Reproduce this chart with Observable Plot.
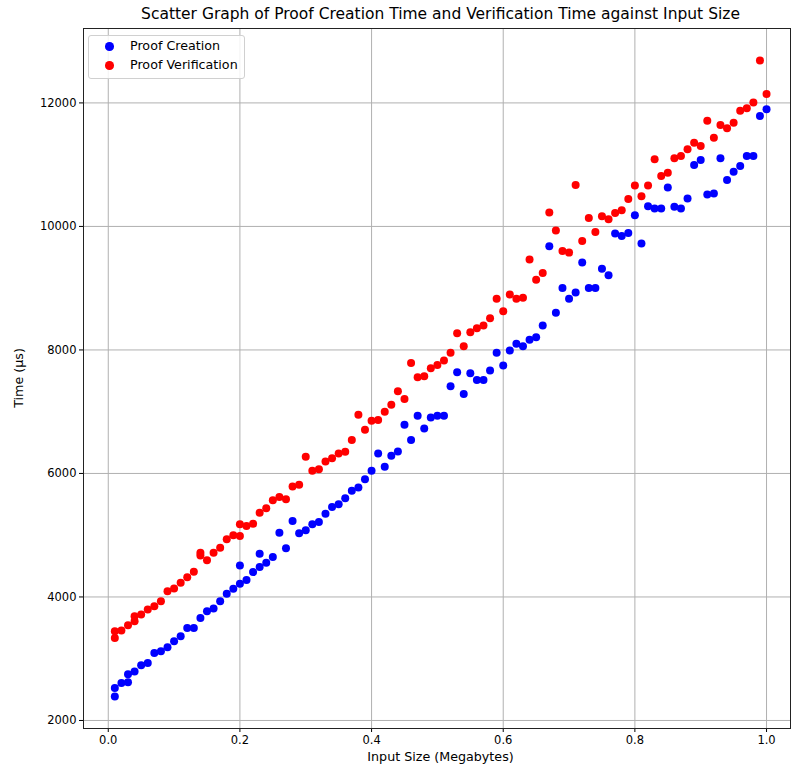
<!DOCTYPE html>
<html>
<head>
<meta charset="utf-8">
<script src="https://cdn.jsdelivr.net/npm/d3@7"></script>
<script src="https://cdn.jsdelivr.net/npm/@observablehq/plot@0.6"></script>
<style>
  body { margin: 0; background: #fff; }
  #wrap { position: relative; width: 791px; height: 771px; font-family: "DejaVu Sans", sans-serif; color: #000; overflow: hidden; }
  #title { position: absolute; left: 83px; width: 715px; top: 5px; text-align: center; font-size: 15.5px; white-space: nowrap; }
  #xlabel { position: absolute; left: 83px; width: 715px; top: 749px; text-align: center; font-size: 12.7px; }
  #ylabel { position: absolute; left: 18px; top: 378px; transform: translate(-50%, -50%) rotate(-90deg); font-size: 12.7px; white-space: nowrap; }
  #legend { position: absolute; left: 88px; top: 35px; width: 155px; height: 42px; border: 1px solid #d0d0d0; border-radius: 3px; background: rgba(255,255,255,0.85); font-size: 12.7px; }
  .row { position: absolute; left: 0; height: 16px; line-height: 16px; }
  .sw { position: absolute; left: 16px; top: 4px; width: 8.5px; height: 8.5px; border-radius: 50%; }
  .lt { position: absolute; left: 41px; top: 0; white-space: nowrap; }
</style>
</head>
<body>
<div id="wrap">
  <div id="plot"></div>
  <div id="title"></div>
  <div id="xlabel"></div>
  <div id="ylabel"></div>
  <div id="legend"></div>
</div>
<script>
// ---- data ----
const titleText = "Scatter Graph of Proof Creation Time and Verification Time against Input Size";
const xLabelText = "Input Size (Megabytes)";
const yLabelText = "Time (µs)";
const seriesNames = ["Proof Creation", "Proof Verification"];
const seriesColors = ["#0000ff", "#ff0000"];

const inputSizes = [
  0.01,0.02,0.03,0.04,0.05,0.06,0.07,0.08,0.09,0.10,
  0.11,0.12,0.13,0.14,0.15,0.16,0.17,0.18,0.19,0.20,
  0.21,0.22,0.23,0.24,0.25,0.26,0.27,0.28,0.29,0.30,
  0.31,0.32,0.33,0.34,0.35,0.36,0.37,0.38,0.39,0.40,
  0.41,0.42,0.43,0.44,0.45,0.46,0.47,0.48,0.49,0.50,
  0.51,0.52,0.53,0.54,0.55,0.56,0.57,0.58,0.59,0.60,
  0.61,0.62,0.63,0.64,0.65,0.66,0.67,0.68,0.69,0.70,
  0.71,0.72,0.73,0.74,0.75,0.76,0.77,0.78,0.79,0.80,
  0.81,0.82,0.83,0.84,0.85,0.86,0.87,0.88,0.89,0.90,
  0.91,0.92,0.93,0.94,0.95,0.96,0.97,0.98,0.99,1.00
];

const creationTime = [
  2390,2606,2620,2795,2893,2930,3093,3120,3185,3282,
  3364,3498,3498,3661,3770,3813,3930,4050,4131,4213,
  4273,4403,4484,4554,4646,5041,4787,5231,5030,5079,
  5177,5214,5349,5458,5501,5599,5718,5771,5907,6042,
  6323,6107,6286,6356,6789,6540,6935,6729,6908,6935,
  6935,7411,7638,7287,7622,7514,7514,7666,7953,7747,
  7990,8099,8060,8164,8206,8396,9679,8602,9002,8829,
  8932,9414,9002,9002,9316,9208,9885,9846,9895,10182,
  9722,10328,10291,10291,10631,10317,10291,10453,10994,11075,
  10518,10534,11102,10750,10885,10977,11140,11140,11789,11898
];

const verificationTime = [
  3445,3456,3542,3688,3716,3797,3851,3932,4094,4138,
  4229,4321,4407,4716,4593,4716,4797,4933,4998,5177,
  5149,5187,5365,5436,5566,5620,5582,5788,5815,6269,
  6042,6069,6193,6248,6323,6351,6540,6951,6708,6854,
  6865,7000,7114,7330,7206,7790,7557,7573,7703,7758,
  7828,7953,8271,8060,8287,8352,8396,8515,8829,8628,
  8899,8829,8846,9463,9138,9245,10226,9933,9602,9576,
  10669,9765,10138,9911,10166,10117,10219,10263,10446,10664,
  10490,10664,11086,10815,10869,11102,11140,11248,11356,11302,
  11713,11437,11643,11589,11680,11875,11914,12005,12687,12146
];

// repeated measurements seen at the same input size
const creationExtraSize = [0.01, 0.03, 0.20, 0.23];
const creationExtraTime = [2524, 2750, 4511, 4700];
const verificationExtraSize = [0.01, 0.04, 0.14, 0.20];
const verificationExtraTime = [3336, 3607, 4670, 4987];

const xTicks = [0.0, 0.2, 0.4, 0.6, 0.8, 1.0];
const yTicks = [2000, 4000, 6000, 8000, 10000, 12000];

// ---- tables ----
const creation = inputSizes.map((s, i) => ({size: s, time: creationTime[i]}))
  .concat(creationExtraSize.map((s, i) => ({size: s, time: creationExtraTime[i]})));
const verification = inputSizes.map((s, i) => ({size: s, time: verificationTime[i]}))
  .concat(verificationExtraSize.map((s, i) => ({size: s, time: verificationExtraTime[i]})));

const gridColor = "#b0b0b0";
const chart = Plot.plot({
  width: 791,
  height: 771,
  marginLeft: 83,
  marginRight: 1,
  marginTop: 28,
  marginBottom: 43,
  style: {fontFamily: "'DejaVu Sans', sans-serif", fontSize: "11px", color: "#000", background: "#fff"},
  x: {domain: [-0.0376, 1.0364]},
  y: {domain: [1870, 13205]},
  marks: [
    Plot.gridX(xTicks, {stroke: gridColor, strokeOpacity: 1, strokeWidth: 1}),
    Plot.gridY(yTicks, {stroke: gridColor, strokeOpacity: 1, strokeWidth: 1}),
    Plot.axisX(xTicks, {tickFormat: d3.format(".1f"), tickSize: 4, tickPadding: 3, label: null, fontSize: 11.5}),
    Plot.axisY(yTicks, {tickFormat: d3.format("d"), tickSize: 4, tickPadding: 3, label: null, fontSize: 11.5}),
    Plot.dot(creation, {x: "size", y: "time", r: 4, fill: seriesColors[0], stroke: "none"}),
    Plot.dot(verification, {x: "size", y: "time", r: 4, fill: seriesColors[1], stroke: "none"}),
    Plot.frame({stroke: "#222", strokeWidth: 1})
  ]
});
document.getElementById("plot").appendChild(chart);

document.getElementById("title").textContent = titleText;
document.getElementById("xlabel").textContent = xLabelText;
document.getElementById("ylabel").textContent = yLabelText;

const legend = document.getElementById("legend");
seriesNames.forEach((name, i) => {
  const row = document.createElement("div");
  row.className = "row";
  row.style.top = (2 + i * 19) + "px";
  row.style.width = "152px";
  const sw = document.createElement("span");
  sw.className = "sw";
  sw.style.background = seriesColors[i];
  const lt = document.createElement("span");
  lt.className = "lt";
  lt.textContent = name;
  row.appendChild(sw);
  row.appendChild(lt);
  legend.appendChild(row);
});
</script>
</body>
</html>
